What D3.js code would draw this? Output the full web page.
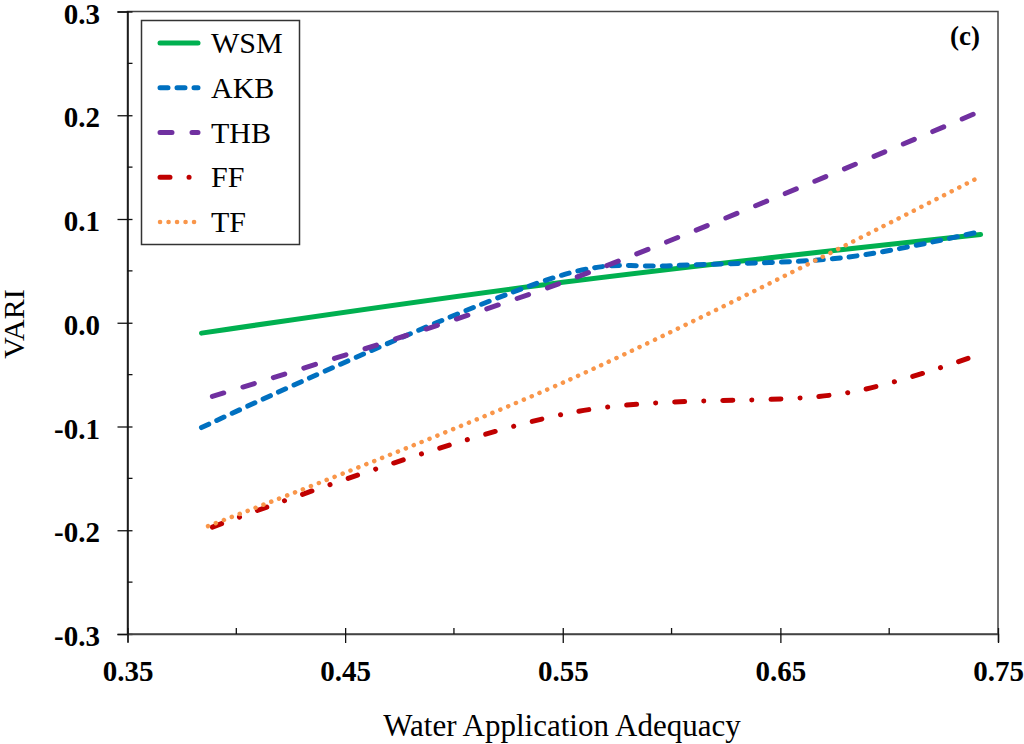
<!DOCTYPE html>
<html>
<head>
<meta charset="utf-8">
<title>VARI vs Water Application Adequacy (c)</title>
<script src="https://d3js.org/d3.v7.min.js"></script>
<style>
  body { margin: 0; background: #fff; }
  svg { display: block; font-family: "Liberation Serif", "Times New Roman", serif; }
</style>
</head>
<body>
<svg id="chart" width="1024" height="744"></svg>
<script>
// series (x = water application adequacy, y = VARI)
var seriesNames = ["WSM", "AKB", "THB", "FF", "TF"];
var wsmX = [0.384, 0.550, 0.742], wsmY = [-0.010, 0.039, 0.085];
var akbX = [0.384, 0.557, 0.600, 0.680, 0.742], akbY = [-0.101, 0.050, 0.055, 0.063, 0.088];
var thbX = [0.389, 0.550, 0.742], thbY = [-0.071, 0.039, 0.204];
var ffX = [0.389, 0.553, 0.682, 0.742], ffY = [-0.197, -0.087, -0.067, -0.030];
var tfX = [0.387, 0.553, 0.742], tfY = [-0.196, -0.055, 0.141];

var xTicks = [0.35, 0.45, 0.55, 0.65, 0.75];
var xMinor = [0.40, 0.50, 0.60, 0.70];
var yTicks = [-0.3, -0.2, -0.1, 0.0, 0.1, 0.2, 0.3];
var yMinor = [-0.25, -0.15, -0.05, 0.05, 0.15, 0.25];

var styles = {
  WSM: {color: "#00B050", dash: null, w: 5},
  AKB: {color: "#0070C0", dash: "8,9", w: 5},
  THB: {color: "#7030A0", dash: "12,20", w: 5},
  FF:  {color: "#C00000", dash: "10,19,0.1,19", w: 5},
  TF:  {color: "#F9964A", dash: "0.1,8.4", w: 4.5}
};

var series = [
  {name: "WSM", xs: wsmX, ys: wsmY},
  {name: "AKB", xs: akbX, ys: akbY},
  {name: "THB", xs: thbX, ys: thbY},
  {name: "FF",  xs: ffX,  ys: ffY},
  {name: "TF",  xs: tfX,  ys: tfY}
];

var svg = d3.select("#chart");
var pLeft = 127.5, pRight = 998, pTop = 11.5, pBottom = 634;

var x = d3.scaleLinear().domain([0.35, 0.75]).range([pLeft, pRight]);
var y = d3.scaleLinear().domain([-0.3, 0.3]).range([pBottom, pTop]);

// frame
svg.append("rect")
  .attr("x", pLeft).attr("y", pTop)
  .attr("width", pRight - pLeft).attr("height", pBottom - pTop)
  .attr("fill", "none").attr("stroke", "#444").attr("stroke-width", 1.5);

// y axis: major ticks cross the axis, minor ticks inside
var yAxis = svg.append("g").attr("transform", "translate(" + pLeft + ",0)")
  .call(d3.axisLeft(y).tickValues(yTicks).tickSize(10).tickPadding(17.5)
    .tickFormat(function(d) { return d3.format(".1f")(d).replace("\u2212", "-"); }));
yAxis.select(".domain").attr("stroke", "#111").attr("stroke-width", 1.5);
yAxis.selectAll(".tick line").attr("x1", 5).attr("x2", -10).attr("stroke", "#111").attr("stroke-width", 1.3);
yAxis.selectAll("text")
  .attr("dy", "0.4em")
  .attr("font-size", 29).attr("font-weight", "bold").attr("fill", "#000")
  .attr("font-family", "Liberation Serif, serif");

svg.append("g").selectAll("line").data(yMinor).join("line")
  .attr("x1", pLeft).attr("x2", pLeft + 5)
  .attr("y1", function(d) { return y(d); }).attr("y2", function(d) { return y(d); })
  .attr("stroke", "#111").attr("stroke-width", 1.3);

// x axis
var xAxis = svg.append("g").attr("transform", "translate(0," + pBottom + ")")
  .call(d3.axisBottom(x).tickValues(xTicks).tickFormat(d3.format(".2f")).tickSize(8).tickPadding(18.5));
xAxis.select(".domain").attr("stroke", "#444").attr("stroke-width", 1.5);
xAxis.selectAll(".tick line").attr("y1", -6).attr("y2", 9).attr("stroke", "#111").attr("stroke-width", 1.3);
xAxis.selectAll("text")
  .attr("font-size", 29).attr("font-weight", "bold").attr("fill", "#000")
  .attr("font-family", "Liberation Serif, serif");

svg.append("g").selectAll("line").data(xMinor).join("line")
  .attr("x1", function(d) { return x(d); }).attr("x2", function(d) { return x(d); })
  .attr("y1", pBottom - 6).attr("y2", pBottom)
  .attr("stroke", "#111").attr("stroke-width", 1.3);

// axis titles
svg.append("text")
  .attr("x", 562).attr("y", 736)
  .attr("text-anchor", "middle").attr("font-size", 31)
  .text("Water Application Adequacy");

svg.append("text")
  .attr("transform", "translate(24,324) rotate(-90)")
  .attr("text-anchor", "middle").attr("font-size", 30)
  .text("VARI");

svg.append("text")
  .attr("x", 980).attr("y", 45)
  .attr("text-anchor", "end").attr("font-size", 27).attr("font-weight", "bold")
  .text("(c)");

// smoothed lines (centripetal catmull-rom keeps the bumps small)
var line = d3.line()
  .x(function(d) { return x(d[0]); })
  .y(function(d) { return y(d[1]); })
  .curve(d3.curveCatmullRom.alpha(0.5));

svg.append("g").selectAll("path").data(series).join("path")
  .attr("d", function(s) { return line(d3.zip(s.xs, s.ys)); })
  .attr("fill", "none")
  .attr("stroke", function(s) { return styles[s.name].color; })
  .attr("stroke-width", function(s) { return styles[s.name].w; })
  .attr("stroke-dasharray", function(s) { return styles[s.name].dash; })
  .attr("stroke-linecap", "round");

// legend
var lg = svg.append("g");
lg.append("rect")
  .attr("x", 141.5).attr("y", 20.5).attr("width", 158).attr("height", 224)
  .attr("fill", "#fff").attr("stroke", "#333").attr("stroke-width", 1.5);

var ly = d3.scalePoint().domain(seriesNames).range([43, 222]);
var items = lg.selectAll("g.item").data(seriesNames).join("g").attr("class", "item");
items.append("line")
  .attr("x1", 160).attr("x2", 198)
  .attr("y1", function(d) { return ly(d); }).attr("y2", function(d) { return ly(d); })
  .attr("stroke", function(d) { return styles[d].color; })
  .attr("stroke-width", function(d) { return styles[d].w; })
  .attr("stroke-dasharray", function(d) { return styles[d].dash; })
  .attr("stroke-linecap", "round");
items.append("text")
  .attr("x", 211).attr("y", function(d) { return ly(d) + 10; })
  .attr("font-size", 30)
  .text(function(d) { return d; });
</script>
</body>
</html>
